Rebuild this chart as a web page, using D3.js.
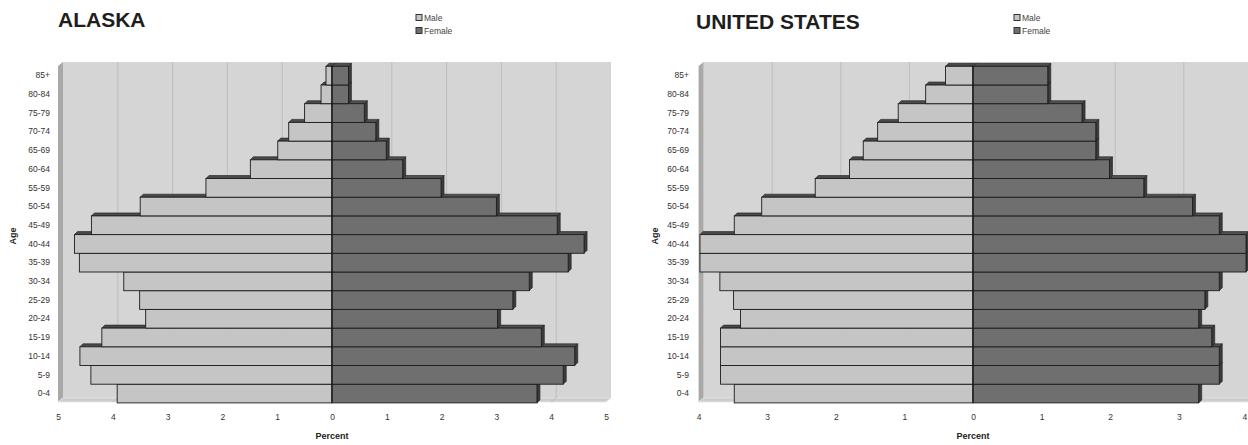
<!DOCTYPE html>
<html><head><meta charset="utf-8">
<script src="https://cdn.jsdelivr.net/npm/d3@7"></script>
<style>
body{margin:0;background:#fff}
svg{display:block}
text{font-family:"Liberation Sans",Arial,Helvetica,sans-serif}
</style>
</head><body>
<svg id="chart" width="1248" height="445"></svg>
<script>
// ---- data ----
const ages = ["85+","80-84","75-79","70-74","65-69","60-64","55-59","50-54","45-49","40-44","35-39","30-34","25-29","20-24","15-19","10-14","5-9","0-4"];
const alaskaMale   = [0.11,0.20,0.50,0.79,0.99,1.49,2.30,3.50,4.39,4.70,4.61,3.80,3.51,3.40,4.20,4.60,4.40,3.92];
const alaskaFemale = [0.30,0.30,0.59,0.80,0.99,1.29,1.99,3.00,4.11,4.60,4.31,3.60,3.30,3.02,3.82,4.43,4.22,3.74];
const usMale   = [0.40,0.69,1.09,1.39,1.60,1.80,2.30,3.08,3.48,3.98,3.98,3.69,3.49,3.39,3.68,3.68,3.68,3.48];
const usFemale = [1.09,1.09,1.59,1.79,1.79,1.99,2.49,3.20,3.59,3.98,3.98,3.59,3.38,3.29,3.48,3.59,3.59,3.29];
const alaskaTicks = [-5,-4,-3,-2,-1,0,1,2,3,4,5];
const usTicks = [-4,-3,-2,-1,0,1,2,3,4];
const seriesNames = ["Male","Female"];

const svg = d3.select("#chart");
svg.append("rect").attr("width",1248).attr("height",445).attr("fill","#fff");

const C = {
  wall:"#d5d5d5", leftWall:"#a9a9a9", floor:"#cdcdcd", grid:"#bdbdbd",
  male:"#c5c5c5", maleTop:"#4a4a4a",
  female:"#6f6f6f", femaleTop:"#505050", femaleSide:"#3c3c3c",
  stroke:"#1c1c1c", text:"#333"
};

function pyramid(o){
  const g = svg.append("g");
  const x = d3.scaleLinear().domain([o.ticks[0], o.ticks[o.ticks.length-1]]).range(o.xRange);
  const y = d3.scaleBand().domain(ages).range([66.3, 402.9]).padding(0);
  const DX = 5, DY = 4, BD = 3;
  const fTop = 66, fBot = 402, bTop = fTop - DY, bBot = fBot - DY;
  const xl = x(o.ticks[0]), xr = x(o.ticks[o.ticks.length-1]);

  // walls
  g.append("rect").attr("x", xl+DX).attr("y", bTop).attr("width", xr-xl).attr("height", bBot-bTop)
    .attr("fill", C.wall);
  g.append("polygon").attr("points", [[xl,fTop],[xl+DX,bTop],[xl+DX,bBot],[xl,fBot]].join(" "))
    .attr("fill", C.leftWall);
  g.append("polygon").attr("points", [[xl,fBot],[xl+DX,bBot],[xr+DX,bBot],[xr,fBot]].join(" "))
    .attr("fill", C.floor).attr("stroke","#e6e6e6").attr("stroke-width",0.8);

  // gridlines on back wall and floor
  g.selectAll("path.grid").data(o.ticks.slice(1,-1)).join("path").attr("class","grid")
    .attr("d", v => `M${x(v)+DX},${bTop}V${bBot}L${x(v)},${fBot}`)
    .attr("fill","none").attr("stroke", C.grid).attr("stroke-width",1);

  // bars, from bottom row to top row so upper bars cover hidden faces
  const bw = y.bandwidth();
  const x0 = x(0);
  const rows = ages.map((a,i)=>({age:a, m:o.male[i], f:o.female[i]})).reverse();
  rows.forEach(r=>{
    const t = y(r.age), b = t + bw;
    const ml = x(-r.m), fr = x(r.f);
    const rg = g.append("g");
    rg.append("polygon").attr("points",[[ml,t],[ml+BD,t-BD],[x0+BD,t-BD],[x0,t]].join(" "))
      .attr("fill", C.maleTop).attr("stroke", C.stroke).attr("stroke-width",0.6);
    rg.append("rect").attr("x", ml).attr("y", t).attr("width", x0-ml).attr("height", bw)
      .attr("fill", C.male).attr("stroke", C.stroke).attr("stroke-width",0.9);
    rg.append("polygon").attr("points",[[x0,t],[x0+BD,t-BD],[fr+BD,t-BD],[fr,t]].join(" "))
      .attr("fill", C.femaleTop).attr("stroke", C.stroke).attr("stroke-width",0.6);
    rg.append("polygon").attr("points",[[fr,t],[fr+BD,t-BD],[fr+BD,b-BD],[fr,b]].join(" "))
      .attr("fill", C.femaleSide).attr("stroke", C.stroke).attr("stroke-width",0.6);
    rg.append("rect").attr("x", x0).attr("y", t).attr("width", fr-x0).attr("height", bw)
      .attr("fill", C.female).attr("stroke", C.stroke).attr("stroke-width",0.9);
  });
  g.append("line").attr("x1",x0).attr("x2",x0).attr("y1",fTop).attr("y2",fBot)
    .attr("stroke","#111").attr("stroke-width",1);

  // axes
  const xa = g.append("g").attr("transform",`translate(0,${fBot+9})`)
    .call(d3.axisBottom(x).tickValues(o.ticks).tickSize(0).tickFormat(d=>Math.abs(d)));
  xa.select(".domain").remove();
  xa.selectAll("text").attr("font-size",8.5).attr("fill",C.text).attr("font-family",null);
  if (o.clampLast) {
    xa.selectAll(".tick").filter((d,i,n)=>i===n.length-1).select("text").attr("dx",-3);
  }

  const ya = g.append("g").attr("transform",`translate(${o.labelRight+3},0)`)
    .call(d3.axisLeft(y).tickSize(0).tickPadding(3));
  ya.select(".domain").remove();
  ya.selectAll("text").attr("font-size",8.5).attr("fill",C.text).attr("font-family",null);

  g.append("text").attr("transform",`translate(${o.ageX},236) rotate(-90)`)
    .attr("text-anchor","middle").attr("font-size",9).attr("font-weight","bold").attr("fill","#222").text("Age");
  g.append("text").attr("x", x0).attr("y", 439).attr("text-anchor","middle")
    .attr("font-size",9).attr("font-weight","bold").attr("fill","#222").text("Percent");

  // title
  g.append("text").attr("x", o.titleX).attr("y", o.titleY).attr("font-size",21)
    .attr("font-weight","bold").attr("fill","#1e1e1e").text(o.title);

  // legend
  const lg = g.append("g").attr("transform",`translate(${o.legendX},0)`);
  const lc = [C.male, C.female];
  seriesNames.forEach((s,i)=>{
    const yy = 18 + i*13;
    lg.append("rect").attr("x",0).attr("y",yy-3.5).attr("width",6).attr("height",6)
      .attr("fill",lc[i]).attr("stroke","#333").attr("stroke-width",1);
    lg.append("text").attr("x",8).attr("y",yy+3).attr("font-size",8.5).attr("fill","#444").text(s);
  });
}

pyramid({title:"ALASKA", male:alaskaMale, female:alaskaFemale, ticks:alaskaTicks,
  xRange:[58,606], labelRight:50, ageX:16, titleX:58, titleY:27, legendX:416, clampLast:false});
pyramid({title:"UNITED STATES", male:usMale, female:usFemale, ticks:usTicks,
  xRange:[698.6,1247.4], labelRight:689, ageX:658, titleX:696, titleY:29, legendX:1014, clampLast:true});
</script>
</body></html>
